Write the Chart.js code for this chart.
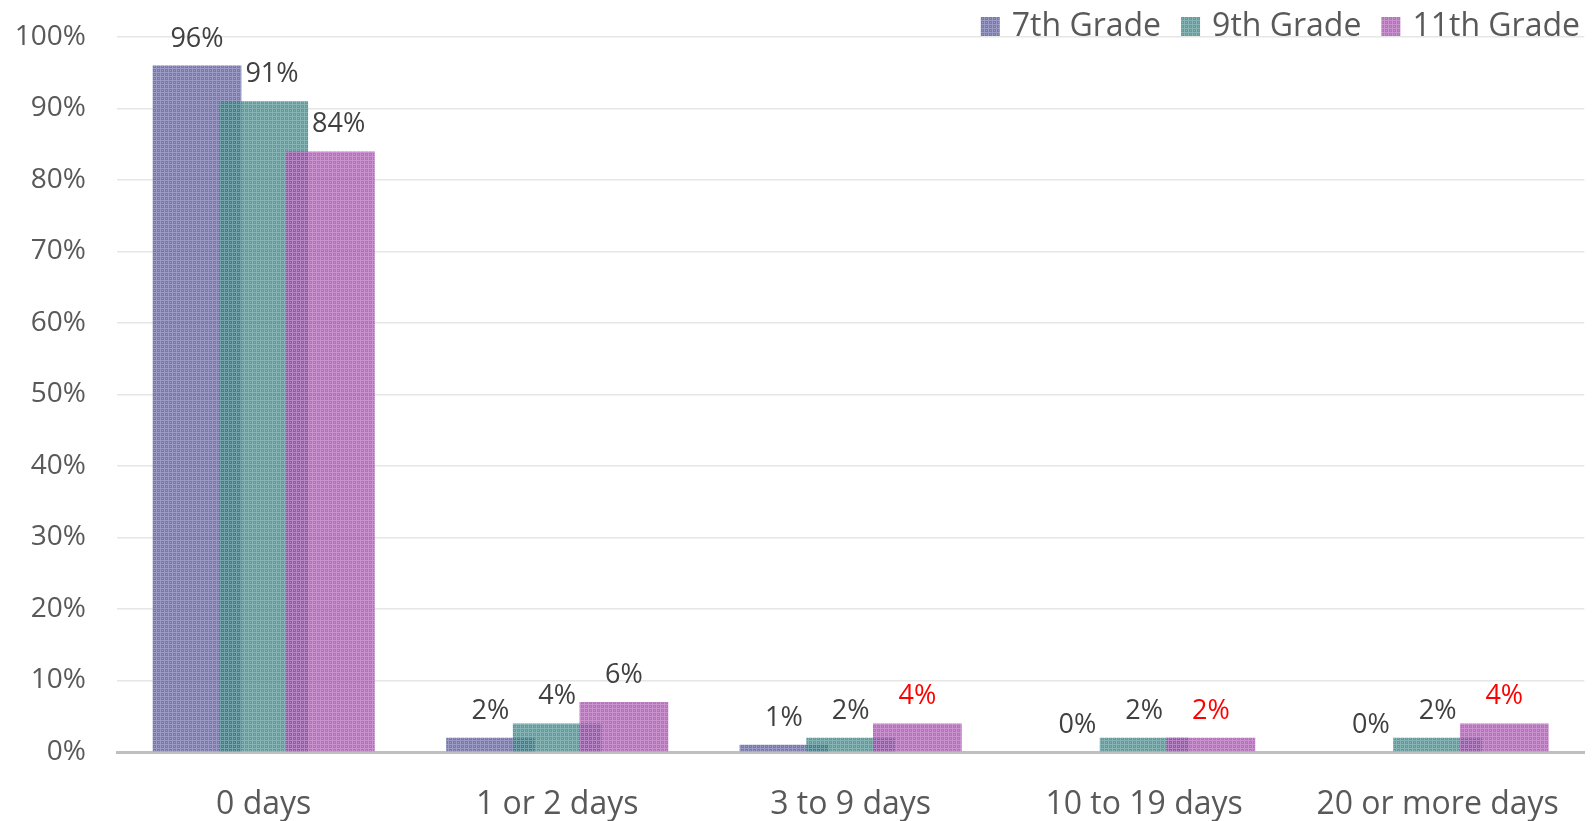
<!DOCTYPE html>
<html>
<head>
<meta charset="utf-8">
<script src="https://cdn.jsdelivr.net/npm/chart.js@4.4.0/dist/chart.umd.min.js"></script>
<style>
  html, body { margin: 0; padding: 0; background: #fff; }
  #wrap { width: 1593px; height: 821px; }
</style>
</head>
<body>
<div id="wrap"><canvas id="grafico" width="1593" height="821"></canvas></div>
<script>
const categorias = ["0 days", "1 or 2 days", "3 to 9 days", "10 to 19 days", "20 or more days"];
const series = ["7th Grade", "9th Grade", "11th Grade"];
const valores7 = [96, 2, 1, 0, 0];
const valores9 = [91, 4, 2, 2, 2];
const valores11 = [84, 7, 4, 2, 4];
const rotulos7 = ["96%", "2%", "1%", "0%", "0%"];
const rotulos9 = ["91%", "4%", "2%", "2%", "2%"];
const rotulos11 = ["84%", "6%", "4%", "2%", "4%"];
const destaque11 = [false, false, true, true, true];
const ticksY = [0, 10, 20, 30, 40, 50, 60, 70, 80, 90, 100];

const FONTE = '"Open Sans", "Noto Sans", sans-serif';
const ctx = document.getElementById("grafico").getContext("2d");

// padrão quadriculado com transparência (as sobreposições escurecem)
function criarPadrao(rgb) {
  const c = document.createElement("canvas");
  c.width = 4;
  c.height = 4;
  const g = c.getContext("2d");
  g.fillStyle = `rgba(${rgb},0.78)`;
  g.fillRect(0, 0, 4, 4);
  g.fillStyle = "rgba(255,255,255,0.25)";
  g.fillRect(0, 0, 4, 1);
  g.fillRect(0, 1, 1, 3);
  g.fillRect(2, 2, 1, 1);
  return ctx.createPattern(c, "repeat");
}

const padroes = [
  criarPadrao("84,82,156"),
  criarPadrao("50,130,130"),
  criarPadrao("164,70,174")
];

const rotulos = [rotulos7, rotulos9, rotulos11];
const cores = [
  rotulos7.map(() => "#404040"),
  rotulos9.map(() => "#404040"),
  destaque11.map(d => d ? "#ff0000" : "#404040")
];

// desenha as séries da esquerda para a direita (a última fica por cima)
const ordemDesenho = {
  id: "ordemDesenho",
  beforeDatasetsDraw(chart) {
    const area = chart.chartArea;
    chart.ctx.save();
    chart.ctx.beginPath();
    chart.ctx.rect(area.left, 0, area.right - area.left, area.bottom);
    chart.ctx.clip();
    chart.data.datasets.forEach((ds, i) => {
      chart.getDatasetMeta(i).controller.draw();
    });
    chart.ctx.restore();
    return false;
  }
};

const rotulosDados = {
  id: "rotulosDados",
  afterDraw(chart) {
    const c = chart.ctx;
    c.save();
    c.font = `27px ${FONTE}`;
    c.textAlign = "center";
    c.textBaseline = "alphabetic";
    chart.data.datasets.forEach((ds, i) => {
      const meta = chart.getDatasetMeta(i);
      meta.data.forEach((barra, j) => {
        const texto = rotulos[i][j];
        const largura = c.measureText(texto).width;
        const base = barra.y - 19;
        let x = barra.x;
        if (i > 0) {
          const ant = chart.getDatasetMeta(i - 1).data[j];
          const dirAnt = ant.x + ant.width / 2;
          if (ant.y < base && x - largura / 2 < dirAnt + 4) {
            x = dirAnt + 4 + largura / 2;
          }
        }
        c.fillStyle = cores[i][j];
        c.fillText(texto, x, base);
      });
    });
    c.restore();
  }
};

const legenda = {
  id: "legenda",
  afterDraw(chart) {
    const c = chart.ctx;
    c.save();
    c.font = `32px ${FONTE}`;
    c.textBaseline = "alphabetic";
    c.textAlign = "left";
    let x = 1580;
    for (let i = series.length - 1; i >= 0; i--) {
      const w = c.measureText(series[i]).width;
      x -= w;
      c.fillStyle = "#595959";
      c.fillText(series[i], x, 35.5);
      x -= 12 + 19;
      c.fillStyle = padroes[i];
      c.fillRect(x, 17, 19, 19);
      x -= 20;
    }
    c.restore();
  }
};

new Chart(ctx, {
  type: "bar",
  data: {
    labels: categorias,
    datasets: [
      { label: series[0], data: valores7, backgroundColor: padroes[0] },
      { label: series[1], data: valores9, backgroundColor: padroes[1] },
      { label: series[2], data: valores11, backgroundColor: padroes[2] }
    ]
  },
  options: {
    responsive: false,
    animation: false,
    categoryPercentage: 0.682,
    barPercentage: 1.33,
    layout: { padding: { left: 14, right: 2, top: 37, bottom: 0 } },
    plugins: {
      legend: { display: false },
      tooltip: { enabled: false }
    },
    scales: {
      x: {
        grid: { display: false, drawTicks: false },
        border: { display: true, color: "#bfbfbf", width: 3 },
        ticks: { color: "#595959", font: { family: FONTE, size: 32 }, padding: 34 },
        afterFit(scale) { scale.height = 69; }
      },
      y: {
        min: 0,
        max: 100,
        afterBuildTicks(scale) { scale.ticks = ticksY.map(v => ({ value: v })); },
        grid: { color: "#e6e6e6", lineWidth: 1.5, drawTicks: false },
        border: { display: false },
        ticks: {
          color: "#595959",
          font: { family: FONTE, size: 28 },
          padding: 31,
          callback: v => v + "%"
        },
        afterFit(scale) {
          scale.width = 103;
          scale.paddingTop = 0;
          scale.paddingBottom = 0;
        }
      }
    }
  },
  plugins: [ordemDesenho, rotulosDados, legenda]
});
</script>
</body>
</html>
